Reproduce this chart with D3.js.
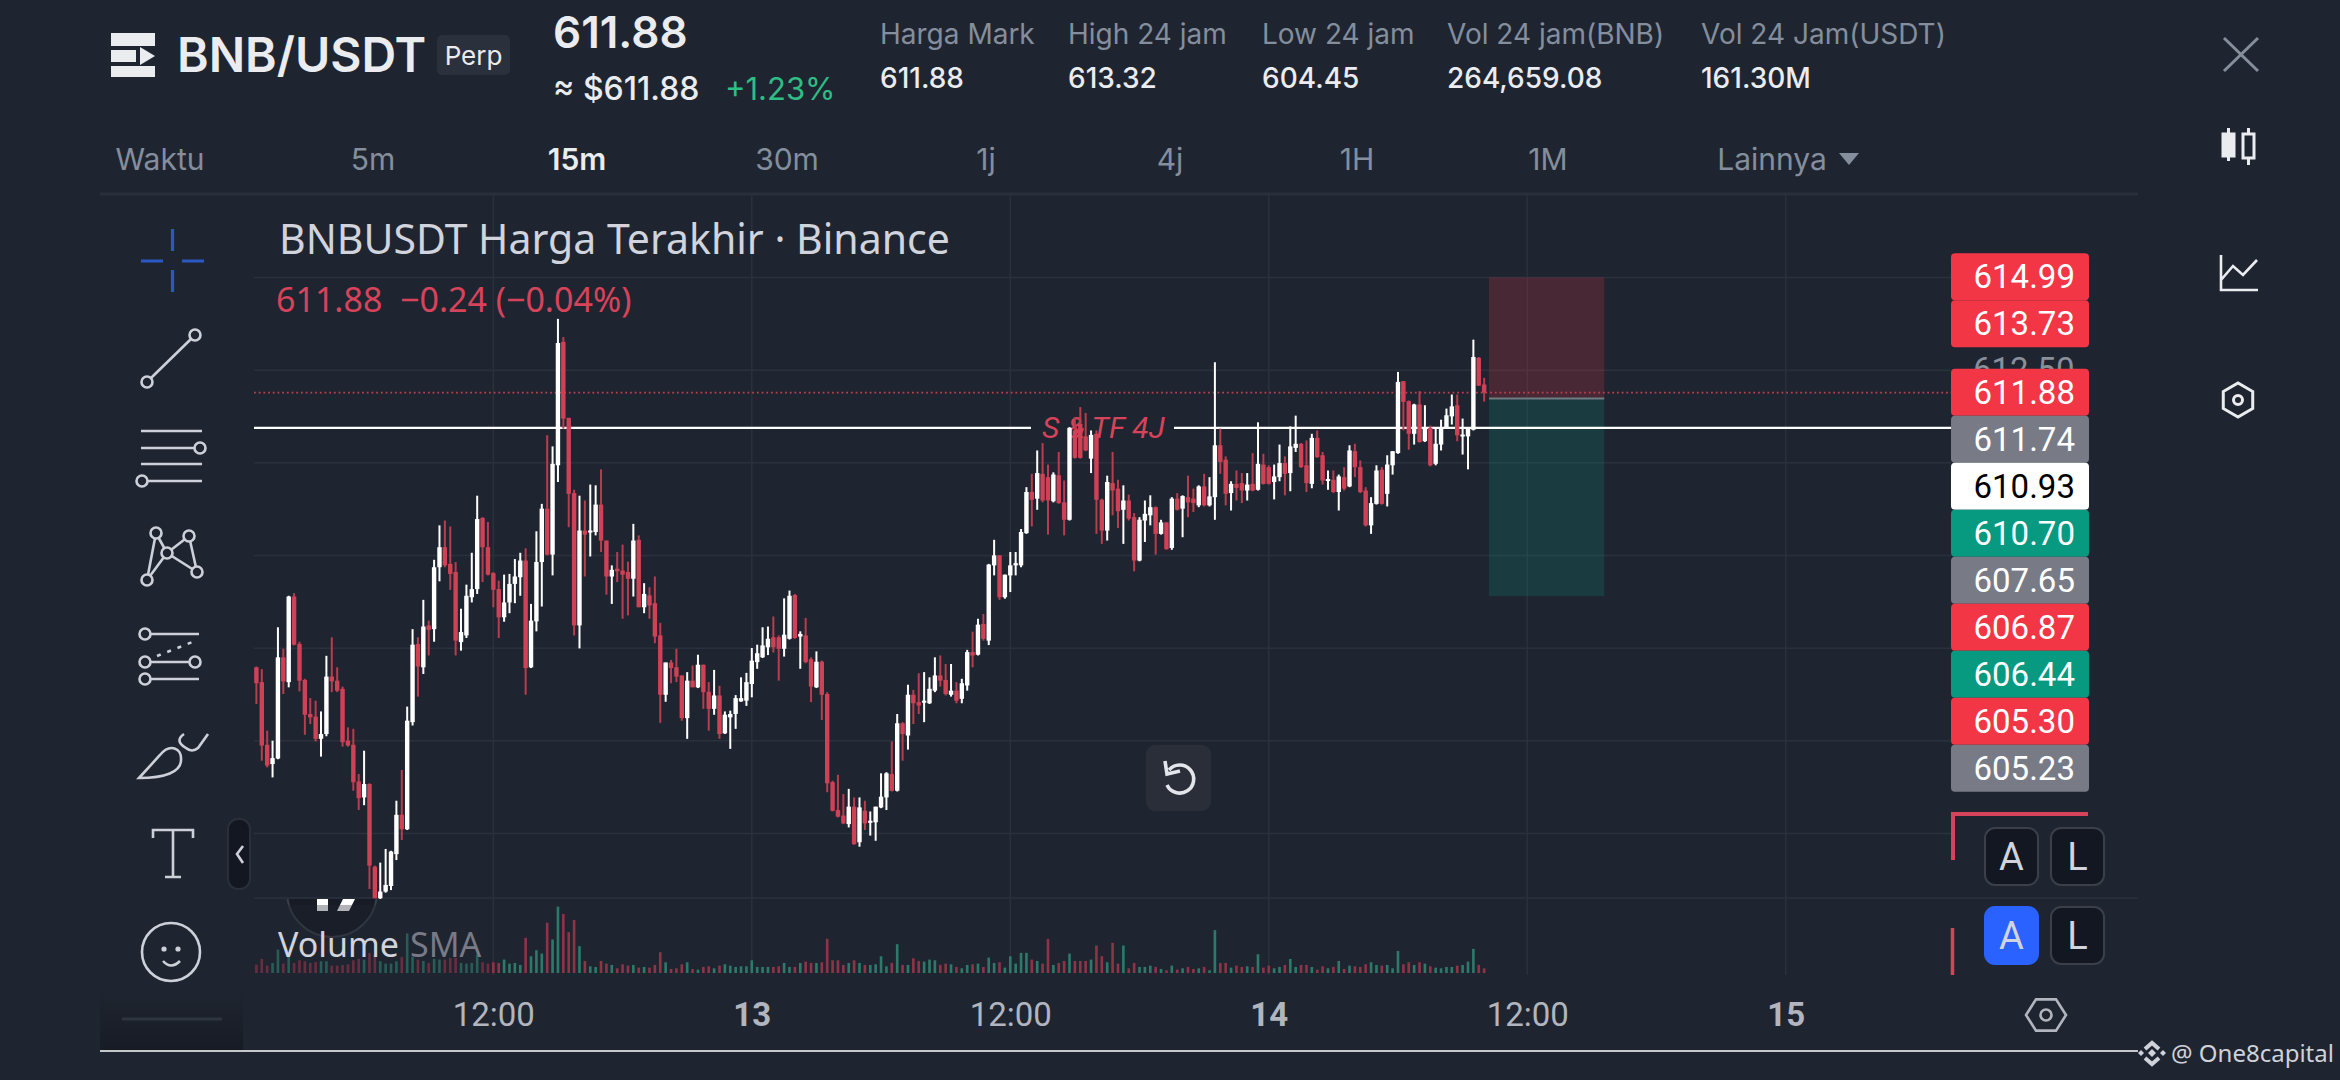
<!DOCTYPE html>
<html>
<head>
<meta charset="utf-8">
<title>BNBUSDT</title>
<script src="https://cdn.jsdelivr.net/npm/d3@7"></script>
<style>
  html, body { margin: 0; padding: 0; background: #1f2530; overflow: hidden; }
  text { font-family: Roboto, sans-serif; }
  .head text { font-family: Inter, sans-serif; }
  text.noto { font-family: "Noto Sans", sans-serif; }
  text.opens { font-family: "Open Sans", sans-serif; }
</style>
</head>
<body>
<div id="container"></div>
<script>
/**
 * DATA (15m candles, bar 44 = 12:00 on the 12th)
 * */
const opens = [
604.47,604.07,602.38,601.86,602.01,604.74,604.07,606.38,605.10,604.13,
603.21,603.14,602.54,602.67,604.22,604.11,603.89,602.49,602.38,601.39,
600.96,601.32,599.09,598.24,598.42,598.57,599.43,600.49,600.10,602.99,
605.10,604.47,605.60,605.50,607.17,607.71,607.26,607.04,605.15,605.33,
606.36,606.58,608.50,607.71,607.01,606.58,605.82,606.22,606.72,606.90,
607.35,604.47,605.71,607.31,608.75,607.51,609.92,613.25,611.20,609.17,
605.60,608.16,608.12,608.12,608.86,607.89,606.92,607.13,607.08,607.04,
606.86,607.91,606.09,606.41,606.20,605.33,603.73,604.60,604.47,604.25,
603.10,604.11,603.93,604.54,603.81,603.35,603.71,602.69,603.12,603.21,
603.55,603.57,604.02,604.61,604.74,605.01,605.28,605.28,604.97,605.24,
606.42,605.30,605.33,604.69,603.93,604.62,603.75,601.37,600.62,600.47,
600.24,600.71,599.75,600.60,600.29,600.29,600.69,600.96,601.59,601.14,
602.96,602.63,603.73,603.53,603.52,603.50,603.84,604.25,604.13,603.73,
603.84,603.62,603.98,604.88,604.81,605.64,605.19,607.22,607.49,606.36,
606.95,607.22,607.22,608.09,609.20,609.02,609.69,609.60,608.95,609.65,
608.92,608.45,610.86,611.04,610.70,610.10,610.77,608.99,608.16,609.44,
609.29,608.72,608.97,608.52,607.35,608.43,608.57,608.79,608.07,608.38,
607.69,609.02,608.75,609.06,609.02,608.84,609.35,608.84,609.06,610.46,
610.07,609.17,609.42,609.44,609.24,609.42,609.26,609.94,609.87,609.47,
609.60,609.98,609.71,610.39,610.50,609.92,609.42,610.66,610.19,609.51,
609.53,609.20,609.60,609.35,610.30,609.87,609.24,608.30,608.88,609.80,
609.15,609.92,610.25,612.19,611.65,610.77,611.56,610.57,610.93,609.96,
610.48,610.93,611.24,611.54,610.71,610.70,610.88,612.82,612.10];

const highs = [
604.49,604.42,602.76,602.49,605.55,604.97,606.40,606.47,605.16,604.16,
603.64,603.57,603.28,604.78,605.28,604.47,603.95,602.85,602.81,601.59,
602.22,601.34,599.12,599.20,599.57,599.52,600.87,601.70,603.41,605.50,
605.28,606.29,605.73,607.37,608.30,608.43,608.27,607.31,606.05,606.70,
607.56,609.10,608.52,608.39,607.04,606.81,606.97,606.99,607.39,607.56,
607.68,606.18,608.14,608.88,610.73,610.43,613.87,613.38,611.20,609.26,
609.10,608.97,609.40,609.38,609.81,607.89,607.22,607.58,607.78,607.32,
608.34,608.03,606.74,606.63,606.92,605.67,604.60,604.67,604.97,604.25,
604.34,604.52,604.81,604.54,604.07,604.40,603.97,603.28,603.30,603.72,
604.20,604.32,604.99,605.08,605.55,605.57,605.84,605.33,606.33,606.54,
606.45,605.44,605.80,604.74,604.90,604.65,603.80,601.41,601.57,601.05,
601.19,600.96,600.96,600.87,600.58,600.71,601.61,601.64,602.47,603.21,
602.99,604.00,603.86,604.31,604.34,604.20,604.74,604.79,604.56,604.56,
604.07,604.16,604.94,605.43,605.78,605.91,607.26,607.91,607.49,606.97,
607.58,607.58,608.20,609.33,609.69,610.32,610.52,609.94,609.73,610.28,
609.51,610.95,611.22,611.49,611.33,610.86,610.86,609.02,609.64,610.28,
609.53,609.38,609.13,608.63,608.52,608.97,609.11,608.81,608.45,608.38,
609.06,609.17,609.11,609.64,609.29,609.38,609.69,609.60,612.70,610.91,
610.16,609.49,609.78,609.71,609.71,610.25,611.08,610.23,609.92,609.94,
610.48,610.16,610.97,611.26,610.52,610.59,610.77,610.86,610.28,609.78,
609.78,609.67,609.87,610.46,610.50,610.05,609.33,609.06,609.92,609.87,
610.19,610.30,612.44,612.19,611.67,611.58,611.92,611.54,610.99,610.91,
611.15,611.45,611.83,611.83,611.18,610.91,613.31,612.84,612.28];

const lows = [
603.48,601.95,601.77,601.50,601.99,603.75,603.93,605.06,603.82,602.65,
602.94,602.47,602.06,602.61,603.80,603.80,602.33,602.33,601.14,600.62,
600.75,598.49,598.24,598.22,598.39,598.46,599.27,599.81,600.08,602.90,
603.68,604.29,604.79,605.16,606.79,607.17,606.56,604.79,604.92,605.26,
606.22,606.45,606.77,606.95,606.09,605.26,605.70,605.93,606.20,606.40,
603.73,604.45,605.44,606.11,607.49,606.95,609.47,610.91,608.25,605.33,
604.98,606.92,607.46,608.03,607.58,606.43,606.18,606.77,605.78,605.87,
606.38,606.09,605.93,605.78,605.12,602.97,603.54,604.04,604.07,603.03,
602.54,603.93,603.91,603.35,602.76,603.19,602.54,602.67,602.27,602.81,
603.54,603.43,603.66,604.43,604.72,604.80,604.87,604.11,604.76,605.22,
605.24,604.43,604.58,603.53,603.91,603.05,601.10,600.58,600.42,600.24,
600.15,599.68,599.63,600.08,599.93,599.79,600.67,600.62,601.12,601.12,
601.95,602.25,602.94,603.21,602.99,603.48,603.80,603.95,603.71,603.68,
603.50,603.50,603.84,604.47,604.79,605.19,605.07,606.95,606.29,606.32,
606.50,606.95,607.17,608.07,608.27,608.72,608.92,608.05,608.92,608.88,
608.03,608.43,610.10,610.10,610.30,609.71,608.07,607.80,607.89,608.57,
608.23,607.80,608.43,607.06,607.33,607.85,608.30,607.51,608.05,607.64,
607.64,608.70,607.98,608.52,608.66,608.79,608.81,608.81,608.45,609.69,
608.84,608.70,608.97,608.90,608.97,609.22,609.24,609.40,609.40,609.00,
609.49,609.11,609.22,610.28,609.85,609.20,609.30,610.12,609.40,609.26,
609.17,608.70,609.24,609.33,609.60,609.17,608.27,608.07,608.86,608.86,
608.81,609.67,610.23,610.86,610.34,610.48,610.53,610.55,609.89,609.92,
610.32,610.91,611.02,610.57,610.21,609.81,610.86,612.06,611.64];

const closes = [
604.04,602.36,601.82,602.02,604.74,604.09,606.38,605.08,604.11,603.19,
603.12,602.54,602.67,604.22,604.09,603.84,602.45,602.36,601.37,600.94,
601.32,599.12,598.24,598.42,598.60,599.50,600.49,600.10,603.03,605.08,
604.49,605.57,605.48,607.17,607.71,607.22,606.99,605.19,605.42,606.40,
606.58,608.47,607.71,606.97,606.56,605.82,606.22,606.72,606.92,607.35,
604.45,605.73,607.31,608.75,607.51,609.96,613.22,611.18,609.15,605.60,
608.16,608.05,608.16,608.86,607.89,606.92,607.10,607.06,606.97,606.86,
607.89,606.09,606.45,606.14,605.30,603.73,604.60,604.45,604.22,603.10,
604.11,603.93,604.54,603.80,603.35,603.71,602.67,603.19,603.21,603.64,
603.64,604.07,604.65,604.85,605.06,605.24,605.01,604.97,605.35,606.40,
605.26,605.37,604.61,603.95,604.62,603.73,601.34,600.60,600.44,600.26,
600.71,599.70,600.69,600.26,600.33,600.71,600.98,601.61,601.14,602.96,
602.67,603.73,603.50,603.44,603.57,603.89,604.25,604.11,603.75,603.84,
603.57,604.04,604.88,604.79,605.62,605.24,607.24,607.49,606.36,606.97,
607.22,607.28,608.12,609.20,608.99,609.71,608.97,608.97,609.67,608.90,
608.45,610.93,610.12,610.12,610.32,610.74,608.99,608.16,609.47,609.24,
608.68,608.97,608.48,607.35,608.45,608.61,608.79,608.07,608.38,607.66,
609.02,608.72,609.09,608.92,608.90,609.35,608.84,609.08,610.46,610.01,
609.15,609.42,609.31,609.24,609.40,609.24,609.96,609.42,609.42,609.62,
609.98,609.69,610.43,610.50,609.87,609.44,610.66,610.14,609.51,609.55,
609.20,609.62,609.29,610.32,609.87,609.20,608.30,608.90,609.78,608.88,
609.94,610.30,612.17,611.63,610.77,611.56,610.55,610.91,609.92,610.50,
610.91,611.27,611.51,610.73,610.75,610.90,612.84,612.07,611.88];

// volume is only readable relative to the tallest bar, so it stays in picture units
const volumes = [
25,42,22,30,70,28,50,30,38,35,30,32,35,35,22,22,24,26,38,42,
40,60,55,35,28,28,35,48,118,48,40,36,30,42,40,40,45,45,30,28,
30,55,32,28,32,30,40,28,30,24,105,50,68,58,150,100,198,176,122,158,
80,36,20,18,36,28,24,14,26,22,24,16,18,16,24,62,32,12,14,26,
32,12,10,18,20,14,22,26,22,18,20,20,38,18,18,18,18,20,30,18,
18,30,34,30,30,32,102,38,38,24,30,38,30,24,24,26,50,20,30,86,
24,24,44,36,34,40,38,24,28,26,18,14,24,26,28,18,46,30,32,16,
50,28,60,60,40,36,28,102,24,30,36,58,36,36,36,40,82,50,32,90,
28,82,14,30,18,18,22,18,12,8,22,10,14,18,12,14,18,8,128,30,
30,16,22,18,20,18,56,16,22,14,18,24,42,18,24,24,18,10,20,14,
18,36,12,22,20,18,26,32,24,22,24,14,66,26,32,24,32,28,20,16,
14,18,18,22,24,34,72,24,14];

const priceTicks = [615, 612.5, 610, 607.5, 605, 602.5, 600];
const timeTicks = [44, 92, 140, 188, 236, 284];
const timeLabels = ["12:00", "13", "12:00", "14", "12:00", "15"];

// price tags stacked on the right edge (their order, not their value, places them)
const tagValues = ["614.99", "613.73", "611.88", "611.74", "610.93", "610.70", "607.65", "606.87", "606.44", "605.30", "605.23"];
const tagKinds = ["red", "red", "red", "grey", "white", "green", "grey", "red", "green", "red", "grey"];

const lastPrice = 611.88;
const srLevel = 610.93;
const stopPrice = 614.99;
const entryPrice = 611.72;
const targetPrice = 606.39;
const positionBars = [228.9, 250.3];

const intervals = ["Waktu", "5m", "15m", "30m", "1j", "4j", "1H", "1M", "Lainnya"];
const statNames = ["Harga Mark", "High 24 jam", "Low 24 jam", "Vol 24 jam(BNB)", "Vol 24 Jam(USDT)"];
const statValues = ["611.88", "613.32", "604.45", "264,659.08", "161.30M"];

const bg = "#1f2530", grid = "#2b313c", ink = "#d1d4dc", muted = "#848e9c";
const upColor = "#ffffff", downColor = "#cf4256";
const volUp = "#2d7a6b", volDown = "#8f3347";
const tagFill = { red: "#f23645", grey: "#787b86", white: "#ffffff", green: "#089981" };

const svg = d3.select("#container").append("svg")
  .attr("width", 2340).attr("height", 1080)
  .style("display", "block");

svg.append("rect").attr("width", 2340).attr("height", 1080).attr("fill", bg);

/**
 * SCALES
 * */
const x = d3.scaleLinear().domain([0, 284]).range([256.4, 1785.7]);
const y = d3.scaleLinear().domain([615, 600]).range([277, 833]);
const yVol = d3.scaleLinear().domain([0, 200]).range([973, 906]);

const bars = opens.map((o, i) => ({ i, o, h: highs[i], l: lows[i], c: closes[i], v: volumes[i] }));

/**
 * GRID
 * */
const plotLeft = 254, plotRight = 1951;

const timeAxis = d3.axisBottom(x)
  .tickValues(timeTicks)
  .tickSize(0)
  .tickPadding(0)
  .tickFormat((d, i) => timeLabels[i]);

const gridX = svg.append("g").attr("class", "grid-x");
gridX.selectAll("line").data(timeTicks).join("line")
  .attr("x1", d => x(d)).attr("x2", d => x(d))
  .attr("y1", 194).attr("y2", 975)
  .attr("stroke", grid).attr("stroke-width", 1.5);

const gridY = svg.append("g").attr("transform", `translate(${plotLeft},0)`)
  .call(d3.axisRight(y).tickValues(priceTicks).tickSize(plotRight - plotLeft).tickFormat(""));
gridY.select(".domain").remove();
gridY.selectAll("line").attr("stroke", grid).attr("stroke-width", 1.5);

// pane divider between price and volume
svg.append("line").attr("x1", plotLeft).attr("x2", 2138).attr("y1", 898).attr("y2", 898)
  .attr("stroke", grid).attr("stroke-width", 1.5);

/**
 * TV LOGO, mostly hidden behind the pane divider
 * */
svg.append("clipPath").attr("id", "logoClip").append("rect")
  .attr("x", 260).attr("y", 899).attr("width", 150).attr("height", 60);
const logo = svg.append("g").attr("clip-path", "url(#logoClip)");
logo.append("circle").attr("cx", 332).attr("cy", 892).attr("r", 45)
  .attr("fill", "#171b25").attr("stroke", "#3a3f4a").attr("stroke-width", 2);
logo.append("rect").attr("x", 317).attr("y", 899).attr("width", 11).attr("height", 12).attr("fill", "#fff");
logo.append("path").attr("d", "M343,899 H355 L349,911 H337 Z").attr("fill", "#fff");

/**
 * POSITION BOX
 * */
const pos = svg.append("g");
pos.append("rect").attr("x", x(positionBars[0])).attr("width", x(positionBars[1]) - x(positionBars[0]))
  .attr("y", y(stopPrice)).attr("height", y(entryPrice) - y(stopPrice))
  .attr("fill", "#f23645").attr("fill-opacity", 0.2);
pos.append("rect").attr("x", x(positionBars[0])).attr("width", x(positionBars[1]) - x(positionBars[0]))
  .attr("y", y(entryPrice)).attr("height", y(targetPrice) - y(entryPrice))
  .attr("fill", "#089981").attr("fill-opacity", 0.2);
pos.append("line").attr("x1", x(positionBars[0])).attr("x2", x(positionBars[1]))
  .attr("y1", y(entryPrice)).attr("y2", y(entryPrice))
  .attr("stroke", "#6f7b82").attr("stroke-width", 2);

/**
 * LEVEL LINES
 * */
svg.append("line").attr("x1", plotLeft).attr("x2", plotRight)
  .attr("y1", y(lastPrice)).attr("y2", y(lastPrice))
  .attr("stroke", "#c23c4e").attr("stroke-width", 1.8).attr("stroke-dasharray", "1.8 2.9");

svg.append("line").attr("x1", plotLeft).attr("x2", 1031).attr("y1", y(srLevel)).attr("y2", y(srLevel))
  .attr("stroke", "#fff").attr("stroke-width", 2.2);
svg.append("line").attr("x1", 1174).attr("x2", plotRight).attr("y1", y(srLevel)).attr("y2", y(srLevel))
  .attr("stroke", "#fff").attr("stroke-width", 2.2);
svg.append("text").attr("x", 1042).attr("y", 438)
  .attr("font-size", 30).attr("font-style", "italic").attr("fill", "#d6435a")
  .text("S & TF 4J");

/**
 * CANDLES
 * */
const candles = svg.append("g").attr("class", "candles");

candles.selectAll("line").data(bars).join("line")
  .attr("x1", d => x(d.i)).attr("x2", d => x(d.i))
  .attr("y1", d => y(d.h)).attr("y2", d => y(d.l))
  .attr("stroke", d => d.c >= d.o ? upColor : "#b93c4f")
  .attr("stroke-width", 2);

candles.selectAll("rect").data(bars).join("rect")
  .attr("x", d => x(d.i) - 2.2)
  .attr("width", 4.4)
  .attr("y", d => y(Math.max(d.o, d.c)))
  .attr("height", d => Math.max(2, Math.abs(y(d.o) - y(d.c))))
  .attr("fill", d => d.c >= d.o ? upColor : downColor);

/**
 * VOLUME
 * */
svg.append("g").attr("class", "volume").selectAll("rect").data(bars).join("rect")
  .attr("x", d => x(d.i) - 1.3)
  .attr("width", 2.6)
  .attr("y", d => yVol(d.v))
  .attr("height", d => yVol(0) - yVol(d.v))
  .attr("fill", d => d.c >= d.o ? volUp : volDown);

// legend veil dims the bars sitting under the Volume SMA caption
svg.append("rect").attr("x", plotLeft).attr("y", 905).attr("width", 236).attr("height", 69)
  .attr("fill", bg).attr("fill-opacity", 0.35);
svg.append("text").attr("class", "noto").attr("x", 278).attr("y", 957).attr("font-size", 34).attr("fill", ink).text("Volume");
svg.append("text").attr("class", "noto").attr("x", 410).attr("y", 957).attr("font-size", 34).attr("fill", "#787b86").text("SMA");

/**
 * TIME AXIS
 * */
const timeG = svg.append("g").attr("transform", "translate(0,1000)").call(timeAxis);
timeG.select(".domain").remove();
timeG.selectAll("text")
  .attr("y", 26).attr("dy", 0)
  .attr("font-size", 33)
  .attr("font-weight", (d, i) => timeLabels[i].includes(":") ? 400 : 700)
  .attr("fill", "#b2b5be");

/**
 * CHART TITLE
 * */
svg.append("text").attr("class", "noto").attr("x", 279).attr("y", 254).attr("font-size", 41).attr("fill", ink)
  .text("BNBUSDT Harga Terakhir · Binance");
svg.append("text").attr("class", "noto").attr("x", 276).attr("y", 312).attr("font-size", 34).attr("fill", "#d6435a")
  .style("white-space", "pre")
  .text("611.88  −0.24 (−0.04%)");

/**
 * PRICE TICK + TAG STACK
 * */
const priceAxis = svg.append("g").attr("transform", `translate(${plotRight},0)`)
  .call(d3.axisRight(y).tickValues([612.5]).tickSize(0).tickPadding(22).tickFormat(d3.format(".2f")));
priceAxis.select(".domain").remove();
priceAxis.selectAll("text").attr("font-size", 33).attr("fill", "#8a8f9a");

const tagTop = 253.3, tagH = 47;
const tags = svg.append("g").selectAll("g").data(tagValues).join("g")
  .attr("transform", (d, i) => {
    // the stack has a gap where the 612.50 tick shows through
    const gap = i < 2 ? 0 : 21.4;
    return `translate(${plotRight},${tagTop + i * tagH + gap})`;
  });
tags.append("rect").attr("width", 138).attr("height", tagH).attr("rx", 4)
  .attr("fill", (d, i) => tagFill[tagKinds[i]]);
tags.append("text").attr("x", 22.5).attr("y", 35).attr("font-size", 33)
  .attr("fill", (d, i) => tagKinds[i] === "white" ? "#000" : "#fff")
  .text(d => d);

// cut off order tag frames
svg.append("path").attr("d", "M1953,860 V814 H2088").attr("fill", "none").attr("stroke", "#d6435a").attr("stroke-width", 4);
svg.append("line").attr("x1", 1952.5).attr("x2", 1952.5).attr("y1", 928).attr("y2", 975).attr("stroke", "#d6435a").attr("stroke-width", 3.5);

/**
 * A / L BUTTONS
 * */
const btnRows = [{ y: 828, active: false }, { y: 907, active: true }];
btnRows.forEach(r => {
  [{ x: 1985, t: "A" }, { x: 2051, t: "L" }].forEach(b => {
    const on = r.active && b.t === "A";
    svg.append("rect").attr("x", b.x).attr("y", r.y).attr("width", 53).attr("height", 57).attr("rx", 10)
      .attr("fill", on ? "#2962ff" : "#131722")
      .attr("stroke", on ? "#2962ff" : "#3a3f4a").attr("stroke-width", 2);
    svg.append("text").attr("x", b.x + 26.5).attr("y", r.y + 42).attr("text-anchor", "middle")
      .attr("font-size", 38).attr("fill", ink).text(b.t);
  });
});

/**
 * HEADER
 * */
const head = svg.append("g").attr("class", "head");

// menu icon
head.append("path").attr("fill", "#eaecef")
  .attr("d", "M111,33 H155 V46 H111 Z M111,50 H136 V62 H111 Z M140,47 L155,56 L140,65 Z M111,66 H155 V77 H111 Z");

head.append("text").attr("x", 177).attr("y", 72).attr("font-size", 48).attr("font-weight", 600)
  .attr("fill", "#eaecef").text("BNB/USDT");
head.append("rect").attr("x", 437).attr("y", 35).attr("width", 73).attr("height", 40).attr("rx", 5).attr("fill", "#2a303c");
head.append("text").attr("x", 473.5).attr("y", 65).attr("text-anchor", "middle").attr("font-size", 26)
  .attr("fill", "#eaecef").text("Perp");

head.append("text").attr("x", 553).attr("y", 48).attr("font-size", 44).attr("font-weight", 600)
  .attr("fill", "#eaecef").text("611.88");
head.append("text").attr("x", 553).attr("y", 100).attr("font-size", 32).attr("font-weight", 500)
  .attr("fill", "#eaecef").text("≈ $611.88");
head.append("text").attr("x", 725).attr("y", 100).attr("font-size", 31).attr("font-weight", 400)
  .attr("fill", "#2ebd85").text("+1.23%");

const statLeft = [880, 1068, 1262, 1447, 1701];
statNames.forEach((s, i) => {
  head.append("text").attr("x", statLeft[i]).attr("y", 44).attr("font-size", 28).attr("fill", muted).text(s);
  head.append("text").attr("x", statLeft[i]).attr("y", 88).attr("font-size", 28).attr("font-weight", 500)
    .attr("fill", "#eaecef").text(statValues[i]);
});

// interval row
const intervalCenter = [160, 373, 577, 787, 986, 1170, 1357, 1548, 1772];
intervals.forEach((t, i) => {
  head.append("text").attr("x", intervalCenter[i]).attr("y", 170).attr("text-anchor", "middle")
    .attr("font-size", 30).attr("font-weight", t === "15m" ? 600 : 400)
    .attr("fill", t === "15m" ? "#eaecef" : muted).text(t);
});
head.append("path").attr("d", "M1839,153 H1859 L1849,165 Z").attr("fill", muted);
svg.append("line").attr("x1", 100).attr("x2", 2138).attr("y1", 194).attr("y2", 194)
  .attr("stroke", "#2a303b").attr("stroke-width", 3);

/**
 * RIGHT ICONS
 * */
const ri = svg.append("g").attr("fill", "none").attr("stroke", "#eaecef").attr("stroke-width", 3);
ri.append("path").attr("d", "M2224,38 L2258,71 M2258,38 L2224,71").attr("stroke", muted);
ri.append("path").attr("d", "M2228.5,128 V161 M2248.5,128 V165");
ri.append("rect").attr("x", 2223).attr("y", 134).attr("width", 11).attr("height", 22).attr("fill", "#eaecef");
ri.append("rect").attr("x", 2243).attr("y", 134).attr("width", 11).attr("height", 24).attr("fill", bg);
ri.append("path").attr("d", "M2221,255 V290 H2258 M2221,280 L2233,266 L2243,275 L2257,260").attr("stroke-width", 2.6);

const hexPath = (cx, cy, r) => {
  const pts = d3.range(6).map(i => {
    const a = Math.PI / 6 + i * Math.PI / 3;
    return [cx + r * Math.cos(a), cy + r * Math.sin(a)];
  });
  return d3.line()(pts) + "Z";
};
ri.append("path").attr("d", hexPath(2238, 400, 17));
ri.append("circle").attr("cx", 2238).attr("cy", 400).attr("r", 4.5);

// settings hexagon under the price scale
const gear = svg.append("g").attr("fill", "none").attr("stroke", "#b2b5be").attr("stroke-width", 2.6);
const gearPts = d3.range(6).map(i => [2046 + 20 * Math.cos(i * Math.PI / 3), 1015 + 18 * Math.sin(i * Math.PI / 3)]);
gear.append("path").attr("d", d3.line()(gearPts) + "Z");
gear.append("circle").attr("cx", 2046).attr("cy", 1015).attr("r", 5.5);

/**
 * LEFT TOOLBAR
 * */
svg.append("path").attr("stroke", "#2b59c3").attr("stroke-width", 3.2).attr("fill", "none")
  .attr("d", "M172.5,229 V251 M172.5,270 V292 M141,261 H163 M182,261 H204");

const tools = svg.append("g").attr("fill", "none").attr("stroke", "#cdd0d8").attr("stroke-width", 2.6);
const dot = (cx, cy, r = 5.5) => tools.append("circle").attr("cx", cx).attr("cy", cy).attr("r", r);

tools.append("path").attr("d", "M151,378 L191,339");
dot(147, 382); dot(195, 335);

tools.append("path").attr("d", "M141,431 H202 M141,448 H195 M141,464 H202 M148,481 H202");
dot(200, 448); dot(142, 481);

tools.append("path").attr("d", "M156,533 L147,580 M156,533 L167,553 M189,536 L167,553 M189,536 L197,572 M147,580 L167,553 L197,572");
[[156, 533], [189, 536], [147, 580], [197, 572], [167, 553]].forEach(p =>
  tools.append("circle").attr("cx", p[0]).attr("cy", p[1]).attr("r", 5.5).attr("fill", bg));

tools.append("path").attr("d", "M150,634 H199 M150,662 H190 M150,679 H199");
dot(145, 634); dot(145, 662); dot(195, 662); dot(145, 679);
tools.append("path").attr("d", "M157,656 L195,641").attr("stroke-dasharray", "4 7");

tools.append("path").attr("d", "M139,778 L160,755 C170,743 182,748 181,760 C181,772 165,778 139,778 Z");
tools.append("path").attr("d", "M184,734 Q174,741 186,748 Q192,753 198,748 L208,734");

tools.append("path").attr("d", "M153,838 V830 H193 V838 M173,830 V877 M165,877 H181");

tools.append("circle").attr("cx", 171).attr("cy", 952).attr("r", 29);
tools.append("path").attr("d", "M163,961 Q171,970 180,961");
tools.append("circle").attr("cx", 164).attr("cy", 949).attr("r", 2.6).attr("fill", "#cdd0d8").attr("stroke", "none");
tools.append("circle").attr("cx", 178).attr("cy", 949).attr("r", 2.6).attr("fill", "#cdd0d8").attr("stroke", "none");

// collapse pill
svg.append("rect").attr("x", 228).attr("y", 819).attr("width", 22).attr("height", 70).attr("rx", 10)
  .attr("fill", "#131722").attr("stroke", "#2a2f3a").attr("stroke-width", 2);
svg.append("path").attr("d", "M243,846 L237,854 L243,863").attr("fill", "none").attr("stroke", "#cdd0d8").attr("stroke-width", 2.6);

// faded footer of the toolbar
const grad = svg.append("defs").append("linearGradient").attr("id", "footFade")
  .attr("x1", 0).attr("x2", 0).attr("y1", 0).attr("y2", 1);
grad.append("stop").attr("offset", 0).attr("stop-color", bg);
grad.append("stop").attr("offset", 1).attr("stop-color", "#171b24");
svg.append("rect").attr("x", 100).attr("y", 990).attr("width", 143).attr("height", 61).attr("fill", "url(#footFade)");
svg.append("line").attr("x1", 122).attr("x2", 222).attr("y1", 1019).attr("y2", 1019).attr("stroke", "#2e3440").attr("stroke-width", 3);

/**
 * RESET BUTTON
 * */
svg.append("rect").attr("x", 1146).attr("y", 745).attr("width", 65).attr("height", 66).attr("rx", 9).attr("fill", "#2a2e39");
svg.append("path").attr("d", "M1169,770 A14,14 0 1 1 1167,785").attr("fill", "none").attr("stroke", "#e3e5ea").attr("stroke-width", 3.6);
svg.append("path").attr("d", "M1165,761 L1167,774 L1180,771").attr("fill", "none").attr("stroke", "#e3e5ea").attr("stroke-width", 3.6);

/**
 * BOTTOM LINE AND WATERMARK
 * */
svg.append("line").attr("x1", 100).attr("x2", 2138).attr("y1", 1051).attr("y2", 1051).attr("stroke", "#fff").attr("stroke-width", 1.6);

const wm = svg.append("g").attr("fill", "#cfd2d9");
const diamond = (cx, cy, r) => wm.append("path")
  .attr("d", `M${cx},${cy - r} L${cx + r},${cy} L${cx},${cy + r} L${cx - r},${cy} Z`);
diamond(2152, 1053, 4); diamond(2141, 1053, 3); diamond(2163, 1053, 3);
wm.append("path").attr("fill", "none").attr("stroke", "#cfd2d9").attr("stroke-width", 4)
  .attr("d", "M2145,1049 L2152,1043 L2159,1049 M2145,1058 L2152,1064 L2159,1058");
svg.append("text").attr("class", "noto").attr("x", 2171).attr("y", 1062)
  .attr("font-size", 24).attr("fill", "#cfd2d9").text("@ One8capital");
</script>
</body>
</html>
